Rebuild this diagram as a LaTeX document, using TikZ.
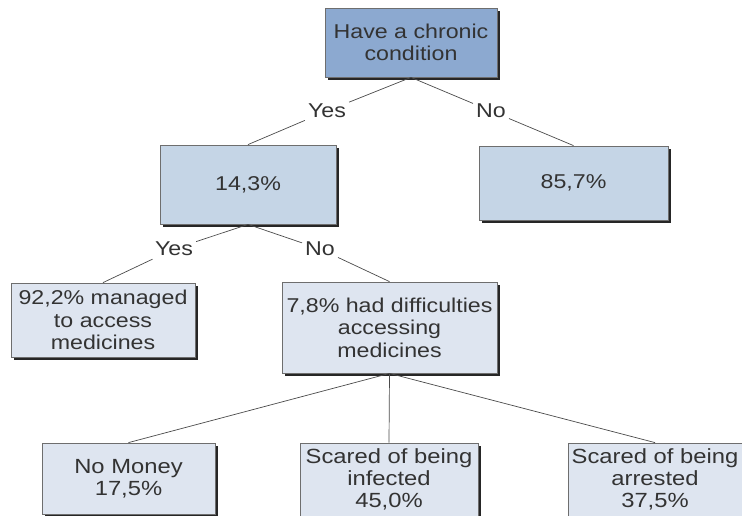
\documentclass[tikz,border=0pt]{standalone}
\usepackage{fontspec}
\setmainfont{Liberation Sans}
\newfontfamily\widesans[FakeStretch=1.16]{Liberation Sans}
\usetikzlibrary{shadows}
\definecolor{txt}{HTML}{333333}
\definecolor{lvlA}{HTML}{8CA9D0}
\definecolor{lvlB}{HTML}{C5D5E6}
\definecolor{lvlC}{HTML}{DEE5F0}
\definecolor{edge}{HTML}{6E6E6E}
\definecolor{conn}{HTML}{4A4A4A}
\tikzset{
  box/.style={draw=edge, line width=0.8pt, align=center, text=txt, inner sep=2pt,
    general shadow={fill=black!85, shadow xshift=3pt, shadow yshift=-3pt}},
  big/.style={font=\widesans\fontsize{20}{22.5}\selectfont},
  small/.style={font=\widesans\fontsize{20.5}{22}\selectfont},
  lab/.style={text=txt, font=\widesans\fontsize{20}{22.5}\selectfont, inner sep=3pt},
  link/.style={draw=conn, line width=0.7pt}
}
\begin{document}
\begin{tikzpicture}[x=1pt,y=-1pt]
\useasboundingbox (0,0) rectangle (742,516);
\node[box,big,fill=lvlA,minimum width=172pt,minimum height=69pt] (top) at (411,42.5) {Have a chronic\\condition};
\node[box,big,fill=lvlB,minimum width=176pt,minimum height=79pt] (p143) at (248,184.5) {14,3\%};
\node[box,big,fill=lvlB,minimum width=189pt,minimum height=74pt] (p857) at (573.5,183) {85,7\%};
\node[box,big,fill=lvlC,minimum width=184pt,minimum height=74pt] (p922) at (103,320) {92,2\% managed\\to access\\medicines};
\node[box,big,fill=lvlC,minimum width=215pt,minimum height=91pt] (p78) at (389.5,327.5) {7,8\% had difficulties\\accessing\\medicines};
\node[box,small,fill=lvlC,minimum width=173pt,minimum height=71pt] (money) at (128.5,478.5) {No Money\\17,5\%};
\node[box,small,fill=lvlC,minimum width=178pt,minimum height=73pt] (infect) at (389,479.5) {Scared of being\\infected\\45,0\%};
\node[box,small,fill=lvlC,minimum width=174pt,minimum height=73pt] (arrest) at (655,479.5) {Scared of being\\arrested\\37,5\%};
\node[lab] (y1) at (327,111) {Yes};
\node[lab] (n1) at (491,111) {No};
\node[lab] (y2) at (174,249) {Yes};
\node[lab] (n2) at (320,249) {No};
\draw[link] (top.south) -- (y1) -- (p143.north);
\draw[link] (top.south) -- (n1) -- (p857.north);
\draw[link] (p143.south) -- (y2) -- (p922.north);
\draw[link] (p143.south) -- (n2) -- (p78.north);
\draw[link] (p78.south) -- (money.north);
\draw[link] (p78.south) -- (infect.north);
\draw[link] (p78.south) -- (arrest.north);
\end{tikzpicture}
\end{document}
